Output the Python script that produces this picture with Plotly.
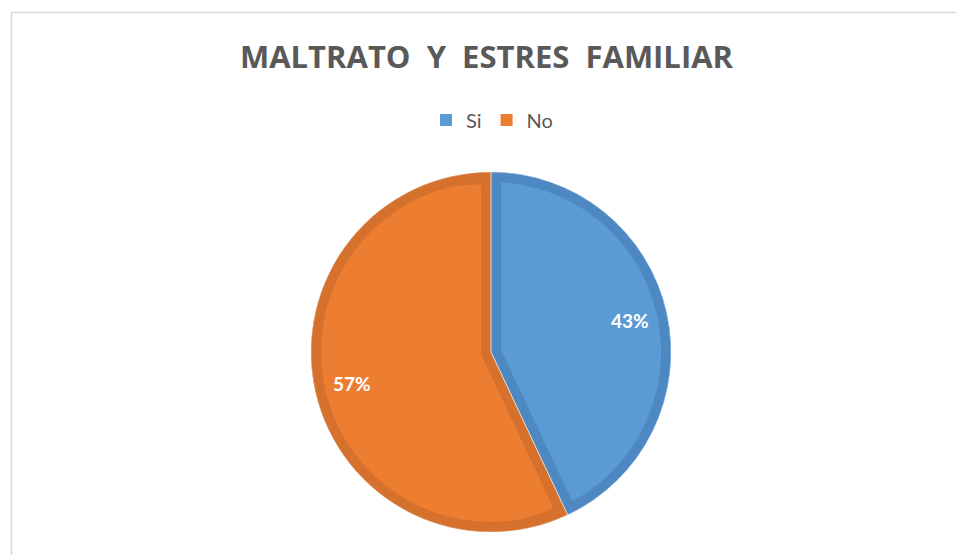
import math
import plotly.graph_objects as go

labels = ["Si", "No"]
values = [43, 57]
light_colors = ["#5B9BD5", "#ED7D31"]
dark_colors = ["#4E88C2", "#D5712D"]
title_text = "MALTRATO  Y  ESTRES  FAMILIAR"

W, H = 956, 555
cx, cy, R = 491, 352, 180
band = 10.0
label_r = 0.79

dom = dict(x=[(cx - R) / W, (cx + R) / W], y=[1 - (cy + R) / H, 1 - (cy - R) / H])

total = sum(values)
frac = values[0] / total
half = math.pi * frac
shift = band / math.sin(half)
pull = (shift / R) / (1 - shift / R)
hole = (R - band) / R

common = dict(labels=labels, values=values, sort=False, direction="clockwise",
              rotation=0, domain=dom, hoverinfo="skip", textinfo="none")

fig = go.Figure()
# dark base
fig.add_trace(go.Pie(**common, marker=dict(colors=dark_colors, line=dict(width=0)),
                     showlegend=False))
# light inset (pulled)
fig.add_trace(go.Pie(**common, pull=[pull, pull],
                     marker=dict(colors=light_colors, line=dict(width=0)),
                     showlegend=True))
# dark outer ring
fig.add_trace(go.Pie(**common, hole=hole,
                     marker=dict(colors=dark_colors, line=dict(width=0)),
                     showlegend=False))
# separator lines
fig.add_trace(go.Pie(**common,
                     marker=dict(colors=["rgba(0,0,0,0)", "rgba(0,0,0,0)"],
                                 line=dict(color="rgba(255,255,255,0.4)", width=1)),
                     showlegend=False))

# percentage labels placed on each slice's bisector (Excel-style)
annotations = []
cum = 0
for v in values:
    theta = 2 * math.pi * (cum + v / 2) / total
    cum += v
    px = cx + label_r * R * math.sin(theta)
    py = cy - label_r * R * math.cos(theta)
    annotations.append(dict(x=px / W, y=1 - py / H, xref="paper", yref="paper",
                            text="<b>%d%%</b>" % round(100 * v / total), showarrow=False,
                            xanchor="center", yanchor="middle",
                            font=dict(family="Lato", size=19, color="white")))

fig.update_layout(
    width=W, height=H,
    margin=dict(l=0, r=0, t=0, b=0),
    paper_bgcolor="white", plot_bgcolor="white",
    title=dict(text="<b>" + title_text + "</b>", x=486.5 / W, xanchor="center",
               y=1 - 57 / H, yanchor="middle",
               font=dict(family="Open Sans", size=31, color="#595959")),
    legend=dict(orientation="h", x=492 / W, xanchor="center", y=1 - 120 / H,
                yanchor="middle", font=dict(family="Lato", size=20, color="#595959"),
                traceorder="normal", itemwidth=30),
    annotations=annotations,
    shapes=[dict(type="rect", xref="paper", yref="paper",
                 x0=11.5 / W, x1=1.02, y0=-0.02, y1=1 - 12.5 / H,
                 line=dict(color="#D9D9D9", width=1.5), layer="below")],
)

fig.write_html("out.html", config={"displayModeBar": False},
               post_script="document.body.style.margin='0px';document.body.style.overflow='hidden';")
